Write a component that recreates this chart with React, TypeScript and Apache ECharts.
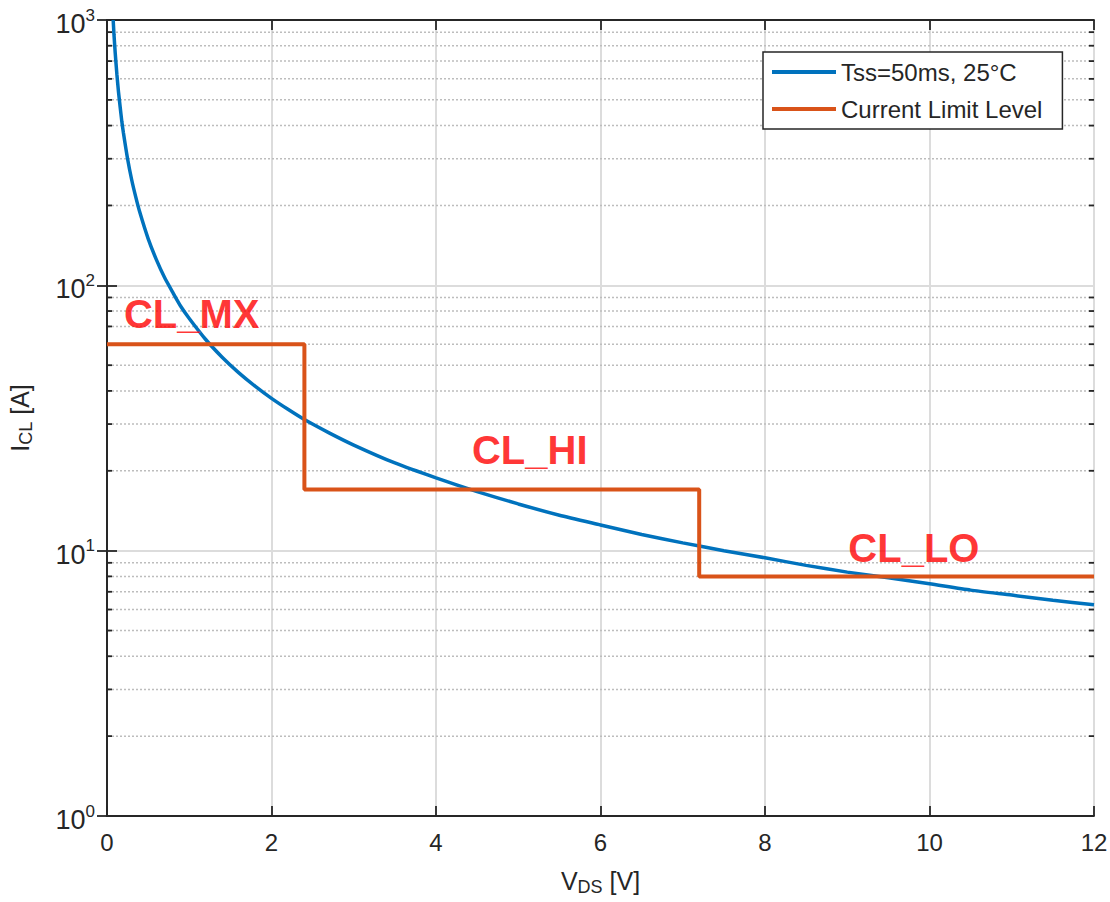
import React, { useEffect, useRef } from "react";
import * as echarts from "echarts";

const xTicks = [0, 2, 4, 6, 8, 10, 12];
const yDecades = [1, 10, 100, 1000];
const minorVals = [2, 3, 4, 5, 6, 7, 8, 9, 20, 30, 40, 50, 60, 70, 80, 90, 200, 300, 400, 500, 600, 700, 800, 900];

const tssV = [0.075, 0.085, 0.1, 0.12, 0.14, 0.16, 0.18, 0.2, 0.25, 0.3, 0.35, 0.4, 0.5, 0.6, 0.7, 0.8, 0.9, 1.0, 1.2, 1.4, 1.6, 1.8, 2.0, 2.2, 2.4, 2.7, 3.0, 3.5, 4.0, 4.5, 5.0, 5.5, 6.0, 6.5, 7.0, 7.5, 8.0, 8.5, 9.0, 9.5, 10, 10.5, 11, 11.5, 12];
const tssI = [1000, 880, 750, 625, 535, 470, 415, 375, 300, 250, 215, 188, 150, 125, 107, 94, 83, 75, 62.5, 53.6, 46.9, 41.7, 37.5, 34.1, 31.2, 27.8, 25, 21.4, 18.8, 16.7, 15, 13.6, 12.5, 11.5, 10.7, 10, 9.4, 8.8, 8.3, 7.9, 7.5, 7.1, 6.8, 6.5, 6.25];

const clV = [0, 2.4, 2.4, 7.2, 7.2, 12];
const clI = [60, 60, 17, 17, 8, 8];

const annoNames = ["CL_MX", "CL_HI", "CL_LO"];
const annoV = [1.03, 5.14, 9.81];
const annoI = [78, 23.9, 10.2];

const seriesNames = ["Tss=50ms, 25°C", "Current Limit Level"];

const FONT = "Liberation Sans";
const DARK = "#262626";

export default function App() {
  const ref = useRef<HTMLDivElement>(null);
  useEffect(() => {
    if (!ref.current) return;
    const chart = echarts.init(ref.current, null, { renderer: "svg" });
    const option: any = {
      animation: false,
      backgroundColor: "#ffffff",
      textStyle: { fontFamily: FONT },
      grid: { left: 107, right: 16, top: 20, bottom: 86, containLabel: false, outerBoundsMode: "none" },
      legend: {
        data: seriesNames,
        left: 763,
        top: 52,
        orient: "vertical",
        icon: "rect",
        itemWidth: 64,
        itemHeight: 4,
        itemGap: 13,
        padding: [8, 20, 8, 9],
        borderColor: DARK,
        borderWidth: 1.5,
        backgroundColor: "#ffffff",
        textStyle: { fontFamily: FONT, fontSize: 24, color: DARK, lineHeight: 24 },
      },
      xAxis: [
        {
          type: "value",
          min: xTicks[0],
          max: xTicks[xTicks.length - 1],
          interval: 2,
          position: "bottom",
          axisLine: { show: true, lineStyle: { color: DARK, width: 1.8 } },
          axisTick: { show: true, inside: true, length: 10, lineStyle: { color: DARK, width: 1.8 } },
          axisLabel: { fontSize: 24, color: DARK, margin: 14, fontFamily: FONT },
          splitLine: { show: true, lineStyle: { color: "#dcdcdc", width: 2 } },
          name: "{v|V}{s|DS}{v| [V]}",
          nameLocation: "middle",
          nameGap: 50,
          nameTextStyle: {
            rich: {
              v: { fontSize: 25, color: DARK, fontFamily: FONT },
              s: { fontSize: 18, color: DARK, fontFamily: FONT, padding: [12, 0, 0, 0] },
            },
          },
        },
        {
          type: "value",
          min: xTicks[0],
          max: xTicks[xTicks.length - 1],
          interval: 2,
          position: "top",
          axisLine: { show: true, lineStyle: { color: DARK, width: 1.8 } },
          axisTick: { show: true, inside: true, length: 10, lineStyle: { color: DARK, width: 1.8 } },
          axisLabel: { show: false },
          splitLine: { show: false },
        },
      ],
      yAxis: [
        {
          type: "log",
          logBase: 10,
          min: yDecades[0],
          max: yDecades[yDecades.length - 1],
          position: "left",
          axisLine: { show: true, lineStyle: { color: DARK, width: 1.8 } },
          axisTick: { show: true, inside: true, length: 10, lineStyle: { color: DARK, width: 1.8 } },
          axisLabel: {
            margin: 12,
            formatter: (v: number) => `{b|10}{s|${Math.round(Math.log10(v))}}`,
            rich: {
              b: { fontSize: 27, color: DARK, fontFamily: FONT, padding: [8, 0, 0, 0] },
              s: { fontSize: 17, color: DARK, fontFamily: FONT, padding: [0, 0, 10, 0] },
            },
          },
          splitLine: { show: true, lineStyle: { color: "#dcdcdc", width: 2 } },
          name: "{v|I}{s|CL}{v| [A]}",
          nameLocation: "middle",
          nameGap: 72,
          nameTextStyle: {
            rich: {
              v: { fontSize: 25, color: DARK, fontFamily: FONT },
              s: { fontSize: 18, color: DARK, fontFamily: FONT, padding: [12, 0, 0, 0] },
            },
          },
        },
        {
          type: "log",
          logBase: 10,
          min: yDecades[0],
          max: yDecades[yDecades.length - 1],
          position: "right",
          axisLine: { show: true, lineStyle: { color: DARK, width: 1.8 } },
          axisTick: { show: true, inside: true, length: 10, lineStyle: { color: DARK, width: 1.8 } },
          axisLabel: { show: false },
          splitLine: { show: false },
        },
      ],
      series: [
        {
          type: "custom",
          name: "minor",
          xAxisIndex: 0,
          yAxisIndex: 0,
          silent: true,
          clip: false,
          z: 1,
          data: minorVals.map((v) => [0, v]),
          renderItem: (params: any, api: any) => {
            const cs = params.coordSys;
            const p = api.coord([0, api.value(1)]);
            const y = p[1];
            return {
              type: "group",
              children: [
                {
                  type: "line",
                  shape: { x1: cs.x + 1, y1: y, x2: cs.x + cs.width - 1, y2: y },
                  style: { stroke: "#bdbdbd", lineWidth: 1.5, lineDash: [2, 2] },
                },
                {
                  type: "line",
                  shape: { x1: cs.x, y1: y, x2: cs.x + 5, y2: y },
                  style: { stroke: DARK, lineWidth: 1.8 },
                },
                {
                  type: "line",
                  shape: { x1: cs.x + cs.width - 5, y1: y, x2: cs.x + cs.width, y2: y },
                  style: { stroke: DARK, lineWidth: 1.8 },
                },
              ],
            };
          },
        },
        {
          type: "line",
          name: seriesNames[0],
          xAxisIndex: 0,
          yAxisIndex: 0,
          z: 3,
          showSymbol: false,
          smooth: 0.2,
          color: "#0072BD",
          lineStyle: { color: "#0072BD", width: 3.5 },
          data: tssV.map((v, i) => [v, tssI[i]]),
        },
        {
          type: "line",
          name: seriesNames[1],
          xAxisIndex: 0,
          yAxisIndex: 0,
          z: 4,
          showSymbol: false,
          color: "#D95319",
          lineStyle: { color: "#D95319", width: 4 },
          data: clV.map((v, i) => [v, clI[i]]),
        },
        {
          type: "scatter",
          name: "annotations",
          xAxisIndex: 0,
          yAxisIndex: 0,
          z: 5,
          symbolSize: 0,
          silent: true,
          label: {
            show: true,
            position: "inside",
            formatter: "{b}",
            fontFamily: FONT,
            fontSize: 40,
            fontWeight: "bold",
            color: "#FF0000",
          },
          data: annoNames.map((n, i) => ({ name: n, value: [annoV[i], annoI[i]] })),
        },
      ],
    };
    chart.setOption(option);
    return () => chart.dispose();
  }, []);
  return (
    <div
      ref={ref}
      style={{ position: "absolute", left: 0, top: 0, width: 1110, height: 902 }}
    />
  );
}
